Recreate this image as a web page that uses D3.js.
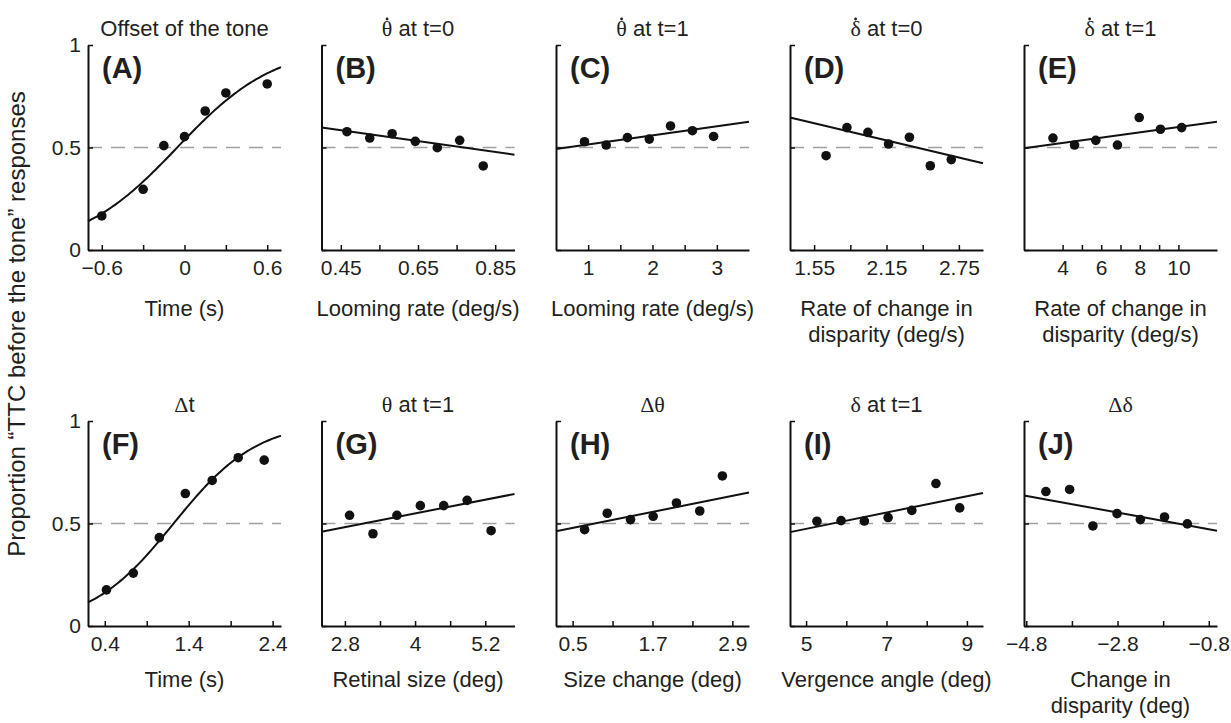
<!DOCTYPE html>
<html>
<head>
<meta charset="utf-8">
<script src="https://cdn.jsdelivr.net/npm/d3@7"></script>
<style>
  body { margin: 0; background: #fff; }
  svg text { font-family: "Liberation Sans", Arial, sans-serif; fill: #231f20; }
  .greek { font-family: "Liberation Serif", "Times New Roman", serif; }
</style>
</head>
<body>
<svg id="chart" width="1231" height="723"></svg>
<script>
// Panel ids, titles and axis labels ("^" marks a dot over the next letter)
var panelIds = ["A", "B", "C", "D", "E", "F", "G", "H", "I", "J"];
var titles = ["Offset of the tone", "^θ at t=0", "^θ at t=1", "^δ at t=0", "^δ at t=1",
              "Δt", "θ at t=1", "Δθ", "δ at t=1", "Δδ"];
var xTitles = [["Time (s)"], ["Looming rate (deg/s)"], ["Looming rate (deg/s)"],
               ["Rate of change in", "disparity (deg/s)"], ["Rate of change in", "disparity (deg/s)"],
               ["Time (s)"], ["Retinal size (deg)"], ["Size change (deg)"], ["Vergence angle (deg)"],
               ["Change in", "disparity (deg)"]];
var yTitle = "Proportion “TTC before the tone” responses";

// x domains and ticks
var xDomains = [[-0.7, 0.7], [0.4, 0.9], [0.5, 3.5], [1.35, 2.95], [2, 12],
                [0.2, 2.5], [2.4, 5.7], [0.25, 3.15], [4.6, 9.4], [-4.85, -0.62]];
var xTicks = [[-0.6, -0.3, 0, 0.3, 0.6], [0.45, 0.55, 0.65, 0.75, 0.85], [1, 1.5, 2, 2.5, 3],
              [1.55, 1.85, 2.15, 2.45, 2.75], [4, 5, 6, 7, 8, 9, 10],
              [0.4, 0.9, 1.4, 1.9, 2.4], [2.8, 3.4, 4, 4.6, 5.2], [0.5, 1.1, 1.7, 2.3, 2.9],
              [5, 6, 7, 8, 9], [-4.8, -3.8, -2.8, -1.8, -0.8]];
var xTickLabels = [["−0.6", "", "0", "", "0.6"], ["0.45", "", "0.65", "", "0.85"], ["1", "", "2", "", "3"],
                   ["1.55", "", "2.15", "", "2.75"], ["4", "", "6", "", "8", "", "10"],
                   ["0.4", "", "1.4", "", "2.4"], ["2.8", "", "4", "", "5.2"], ["0.5", "", "1.7", "", "2.9"],
                   ["5", "", "7", "", "9"], ["−4.8", "", "−2.8", "", "−0.8"]];
var yTicks = [0, 0.5, 1];
var yTickLabels = ["0", "0.5", "1"];

// observed proportions
var xA = [-0.6, -0.3, -0.15, 0, 0.15, 0.3, 0.6];
var yA = [0.166, 0.296, 0.509, 0.553, 0.678, 0.766, 0.81];
var xB = [0.466, 0.525, 0.583, 0.643, 0.70, 0.758, 0.819];
var yB = [0.577, 0.546, 0.567, 0.530, 0.499, 0.535, 0.410];
var xC = [0.943, 1.28, 1.61, 1.95, 2.28, 2.62, 2.95];
var yC = [0.528, 0.512, 0.548, 0.541, 0.605, 0.582, 0.554];
var xD = [1.649, 1.822, 1.996, 2.167, 2.34, 2.513, 2.687];
var yD = [0.460, 0.597, 0.574, 0.517, 0.550, 0.411, 0.441];
var xE = [3.5, 4.62, 5.72, 6.84, 7.97, 9.07, 10.17];
var yE = [0.546, 0.512, 0.535, 0.512, 0.646, 0.589, 0.597];
var xF = [0.42, 0.74, 1.05, 1.36, 1.68, 1.99, 2.30];
var yF = [0.176, 0.258, 0.431, 0.646, 0.710, 0.821, 0.809];
var xG = [2.88, 3.28, 3.69, 4.09, 4.49, 4.89, 5.30];
var yG = [0.540, 0.450, 0.540, 0.587, 0.587, 0.613, 0.465];
var xH = [0.68, 1.02, 1.37, 1.71, 2.06, 2.41, 2.75];
var yH = [0.470, 0.550, 0.519, 0.535, 0.600, 0.561, 0.732];
var xI = [5.27, 5.87, 6.45, 7.04, 7.63, 8.23, 8.82];
var yI = [0.511, 0.514, 0.512, 0.529, 0.564, 0.695, 0.576];
var xJ = [-4.37, -3.85, -3.34, -2.81, -2.30, -1.77, -1.27];
var yJ = [0.656, 0.666, 0.488, 0.548, 0.519, 0.532, 0.498];
var xs = [xA, xB, xC, xD, xE, xF, xG, xH, xI, xJ];
var ys = [yA, yB, yC, yD, yE, yF, yG, yH, yI, yJ];

// fitted curves: logistic (mu, scale) for A and F, straight lines elsewhere (values at the axis ends)
var logisticFits = { A: [-0.053, 0.357], F: [1.22, 0.5] };
var lineFits = {
  B: [0.597, 0.465], C: [0.493, 0.626], D: [0.646, 0.423], E: [0.496, 0.626],
  G: [0.460, 0.644], H: [0.462, 0.651], I: [0.458, 0.649], J: [0.637, 0.465]
};

// layout
var colLeft = [88, 321.5, 556, 790, 1024];
var rowTop = [45, 421];
var pw = 193, ph = 205;
var fontSize = 22, tickFont = 21;

var svg = d3.select("#chart");

// writes a title; greek letters go in a serif face, "^" puts a dot over the next letter
function richText(sel, str) {
  var dotAt = [];
  var plain = "";
  for (var k = 0; k < str.length; k++) {
    if (str[k] === "^") { dotAt.push(plain.length); continue; }
    plain += str[k];
  }
  var runs = plain.match(/[θδΔ]+|[^θδΔ]+/g);
  runs.forEach(function(r) {
    var t = sel.append("tspan").text(r);
    if (/[θδΔ]/.test(r)) t.attr("class", "greek");
  });
  var node = sel.node();
  var parent = d3.select(node.parentNode);
  dotAt.forEach(function(ci) {
    var box = node.getExtentOfChar(ci);
    parent.append("circle")
      .attr("cx", box.x + box.width / 2)
      .attr("cy", box.y + box.height * 0.12)
      .attr("r", 1.4)
      .attr("fill", "#231f20");
  });
}

panelIds.forEach(function(id, i) {
  var col = i % 5, row = Math.floor(i / 5);
  var g = svg.append("g")
    .attr("transform", "translate(" + colLeft[col] + "," + rowTop[row] + ")");

  var x = d3.scaleLinear().domain(xDomains[i]).range([0, pw]);
  var y = d3.scaleLinear().domain([0, 1]).range([ph, 0]);

  // chance level
  g.append("line")
    .attr("x1", 0).attr("x2", pw)
    .attr("y1", y(0.5)).attr("y2", y(0.5))
    .attr("stroke", "#a0a0a0")
    .attr("stroke-width", 1.6)
    .attr("stroke-dasharray", "14,9");

  // fit
  var fitPts;
  if (logisticFits[id]) {
    var p = logisticFits[id];
    var lo = xDomains[i][0], hi = xDomains[i][1];
    fitPts = d3.range(0, 101).map(function(k) {
      var xv = lo + (hi - lo) * k / 100;
      return [xv, 1 / (1 + Math.exp(-(xv - p[0]) / p[1]))];
    });
  } else {
    fitPts = [[xDomains[i][0], lineFits[id][0]], [xDomains[i][1], lineFits[id][1]]];
  }
  g.append("path")
    .datum(fitPts)
    .attr("fill", "none")
    .attr("stroke", "#111")
    .attr("stroke-width", 2)
    .attr("d", d3.line().x(function(d) { return x(d[0]); }).y(function(d) { return y(d[1]); }));

  // points
  g.selectAll("circle")
    .data(xs[i].map(function(v, k) { return [v, ys[i][k]]; }))
    .enter().append("circle")
    .attr("cx", function(d) { return x(d[0]); })
    .attr("cy", function(d) { return y(d[1]); })
    .attr("r", 4.8)
    .attr("fill", "#111");

  // axes, ticks pointing inwards
  var xAxis = d3.axisBottom(x)
    .tickValues(xTicks[i])
    .tickSizeInner(-5).tickSizeOuter(0).tickPadding(10)
    .tickFormat(function(d, k) { return xTickLabels[i][k]; });
  var ax = g.append("g").attr("transform", "translate(0," + ph + ")").call(xAxis);

  var yAxis = d3.axisLeft(y)
    .tickValues(yTicks)
    .tickSizeInner(-5).tickSizeOuter(0).tickPadding(7)
    .tickFormat(function(d, k) { return col === 0 ? yTickLabels[k] : ""; });
  var ay = g.append("g").call(yAxis);

  [ax, ay].forEach(function(a) {
    a.selectAll("text").style("font-size", tickFont + "px").attr("fill", "#231f20");
    a.select(".domain").attr("stroke", "#111").attr("stroke-width", 2);
    a.selectAll(".tick line").attr("stroke", "#111").attr("stroke-width", 1.5);
    a.attr("font-family", null);
  });

  // panel title
  var tt = g.append("text")
    .attr("x", pw / 2)
    .attr("y", -9)
    .attr("text-anchor", "middle")
    .style("font-size", fontSize + "px");
  richText(tt, titles[i]);

  // panel letter
  g.append("text")
    .attr("x", 14)
    .attr("y", 33)
    .style("font-size", "29px")
    .style("font-weight", "bold")
    .text("(" + id + ")");

  // x axis title
  var xt = g.append("text")
    .attr("x", pw / 2)
    .attr("y", row === 0 ? ph + 66 : ph + 61)
    .attr("text-anchor", "middle")
    .style("font-size", fontSize + "px");
  xTitles[i].forEach(function(line, k) {
    xt.append("tspan").attr("x", pw / 2).attr("dy", k === 0 ? 0 : 26).text(line);
  });
});

// shared y title
svg.append("text")
  .attr("transform", "translate(25,324) rotate(-90)")
  .attr("text-anchor", "middle")
  .style("font-size", "24px")
  .text(yTitle);
</script>
</body>
</html>
